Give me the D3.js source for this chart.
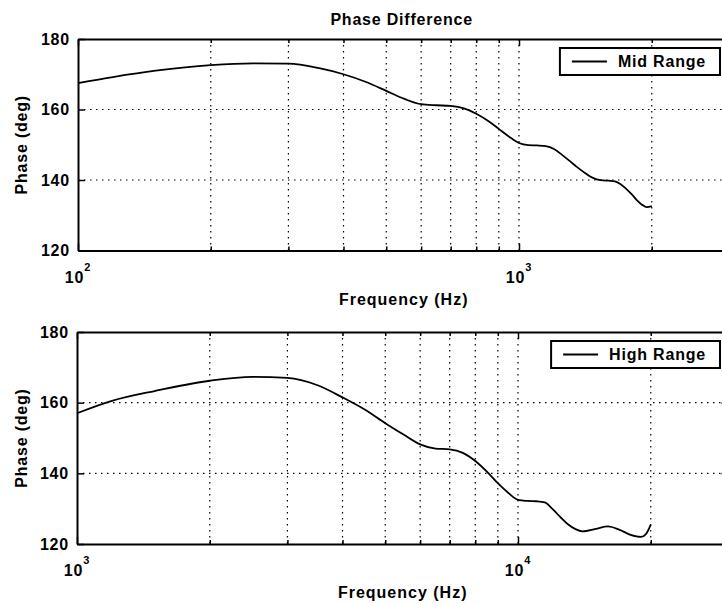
<!DOCTYPE html>
<html>
<head>
<meta charset="utf-8">
<script src="https://cdn.jsdelivr.net/npm/d3@7"></script>
<style>
  body { margin: 0; background: #fff; }
  svg { display: block; font-family: "Liberation Sans", Arial, sans-serif; }
</style>
</head>
<body>
<div id="chart-area"></div>
<script>
// mid range measurement (Hz, deg)
const midFreq = [100, 120, 150, 200, 250, 300, 350, 400, 450, 500, 550, 600, 650, 700, 750, 800, 850, 900, 950, 1000,
  1050, 1100, 1150, 1200, 1250, 1300, 1350, 1400, 1450, 1500, 1550, 1600, 1650, 1700, 1750, 1800, 1850, 1900, 1950, 2000];
const midPhase = [167.5, 169.2, 171.0, 172.6, 173.1, 173.0, 171.8, 170.0, 167.8, 165.3, 163.0, 161.5, 161.2, 161.0, 160.3, 158.8, 156.8, 154.5, 152.3, 150.5,
  149.9, 149.8, 149.6, 148.8, 147.2, 145.5, 143.8, 142.3, 141.0, 140.2, 139.9, 139.8, 139.6, 138.8, 137.5, 136.0, 134.3, 133.0, 132.3, 132.6];

// high range measurement (Hz, deg)
const highFreq = [1000, 1200, 1500, 2000, 2500, 3000, 3500, 4000, 4500, 5000, 5500, 6000, 6500, 7000, 7500, 8000, 8500, 9000, 9500, 10000,
  10500, 11000, 11500, 12000, 12500, 13000, 13500, 14000, 15000, 16000, 17000, 18000, 19000, 19500, 20000];
const highPhase = [157.0, 160.5, 163.3, 166.2, 167.3, 167.0, 165.0, 161.5, 158.0, 154.2, 151.0, 148.2, 147.0, 146.8, 145.8, 143.5, 140.5, 137.2, 134.5, 132.5,
  132.2, 132.1, 131.8, 129.8, 127.5, 125.5, 124.2, 123.6, 124.3, 125.0, 124.0, 122.6, 122.0, 122.8, 125.5];

const phaseTicks = [120, 140, 160, 180];
const phaseDomain = [120, 180];
const midDomain = [100, 3000];
const highDomain = [1000, 30000];

const canvasWidth = 722;
const canvasHeight = 604;
const decadePx = 441;

const canvas = d3.select("#chart-area").append("svg")
  .attr("width", canvasWidth)
  .attr("height", canvasHeight);

function isDecade(v) {
  const l = Math.log10(v);
  return Math.abs(l - Math.round(l)) < 1e-9;
}

function styleAxis(g) {
  g.attr("font-family", null).attr("font-size", null);
  g.select(".domain").attr("stroke", "#000").attr("stroke-width", 2);
  g.selectAll(".tick line").attr("stroke", "#000").attr("stroke-width", 1.5);
  g.selectAll(".tick text")
    .attr("fill", "#000")
    .attr("font-size", "16px")
    .attr("font-weight", "bold")
    .attr("letter-spacing", "0.8px");
}

function drawPanel(p) {
  const right = p.left + decadePx * Math.log10(p.domain[1] / p.domain[0]);
  const x = d3.scaleLog().domain(p.domain).range([p.left, right]);
  const y = d3.scaleLinear().domain(phaseDomain).range([p.bottom, p.top]);

  const allTicks = x.ticks();
  const majors = allTicks.filter(isDecade);
  const minors = allTicks.filter(t => !isDecade(t));

  const g = canvas.append("g");

  // dotted grid
  const grid = g.append("g")
    .attr("stroke", "#000")
    .attr("stroke-width", 1.2)
    .attr("stroke-dasharray", "1.5,4.5");
  grid.selectAll("line.gx")
    .data(allTicks.filter(t => t > p.domain[0]))
    .enter().append("line")
    .attr("x1", d => x(d)).attr("x2", d => x(d))
    .attr("y1", p.top).attr("y2", p.bottom);
  grid.selectAll("line.gy")
    .data(phaseTicks.filter(t => t > phaseDomain[0] && t < phaseDomain[1]))
    .enter().append("line")
    .attr("x1", p.left).attr("x2", right)
    .attr("y1", d => y(d)).attr("y2", d => y(d));

  // frame with inward ticks
  g.append("g").attr("transform", `translate(0, ${p.bottom})`)
    .call(d3.axisBottom(x).tickValues(majors).tickSizeInner(-7).tickSizeOuter(0).tickFormat(""))
    .call(styleAxis);
  g.append("g").attr("transform", `translate(0, ${p.bottom})`)
    .call(d3.axisBottom(x).tickValues(minors).tickSizeInner(-4).tickSizeOuter(0).tickFormat(""))
    .call(styleAxis)
    .call(a => a.select(".domain").remove());
  g.append("g").attr("transform", `translate(0, ${p.top})`)
    .call(d3.axisTop(x).tickValues(majors).tickSizeInner(-7).tickSizeOuter(0).tickFormat(""))
    .call(styleAxis);
  g.append("g").attr("transform", `translate(0, ${p.top})`)
    .call(d3.axisTop(x).tickValues(minors).tickSizeInner(-4).tickSizeOuter(0).tickFormat(""))
    .call(styleAxis)
    .call(a => a.select(".domain").remove());
  g.append("g").attr("transform", `translate(${p.left}, 0)`)
    .call(d3.axisLeft(y).tickValues(phaseTicks).tickSizeInner(-7).tickSizeOuter(0).tickPadding(8))
    .call(styleAxis);
  g.append("g").attr("transform", `translate(${right}, 0)`)
    .call(d3.axisRight(y).tickValues(phaseTicks).tickSizeInner(-7).tickSizeOuter(0).tickFormat(""))
    .call(styleAxis);

  // decade labels 10^n
  const decLabels = g.selectAll("text.dec")
    .data(majors)
    .enter().append("text")
    .attr("class", "dec")
    .attr("x", d => x(d))
    .attr("y", p.bottom + 32)
    .attr("text-anchor", "middle")
    .attr("font-size", "16px")
    .attr("font-weight", "bold")
    .attr("letter-spacing", "0.8px");
  decLabels.append("tspan").text("10");
  decLabels.append("tspan")
    .attr("dy", -12)
    .attr("font-size", "11px")
    .text(d => Math.round(Math.log10(d)));

  // axis titles
  g.append("text")
    .attr("x", (p.left + right) / 2)
    .attr("y", p.bottom + 54)
    .attr("text-anchor", "middle")
    .attr("font-size", "16px")
    .attr("font-weight", "bold")
    .attr("letter-spacing", "1px")
    .text("Frequency (Hz)");
  g.append("text")
    .attr("transform", `translate(27, ${(p.top + p.bottom) / 2}) rotate(-90)`)
    .attr("text-anchor", "middle")
    .attr("font-size", "16px")
    .attr("font-weight", "bold")
    .attr("letter-spacing", "0.8px")
    .text("Phase (deg)");

  if (p.title) {
    g.append("text")
      .attr("x", (p.left + right) / 2 - 2)
      .attr("y", p.top - 14)
      .attr("text-anchor", "middle")
      .attr("font-size", "16px")
      .attr("font-weight", "bold")
      .attr("letter-spacing", "0.8px")
      .text(p.title);
  }

  // curve
  const line = d3.line()
    .x(d => x(d[0]))
    .y(d => y(d[1]))
    .curve(d3.curveMonotoneX);
  g.append("path")
    .datum(d3.zip(p.freq, p.phase))
    .attr("fill", "none")
    .attr("stroke", "#000")
    .attr("stroke-width", 1.8)
    .attr("d", line);

  // legend box in the upper right corner
  const legend = g.append("g");
  const boxRect = legend.append("rect");
  const boxTop = p.top + 9;
  const boxH = 27;
  const legText = legend.append("text")
    .attr("font-size", "16px")
    .attr("font-weight", "bold")
    .attr("letter-spacing", "0.8px")
    .attr("y", boxTop + 19)
    .text(p.label);
  const textLen = legText.node().getComputedTextLength();
  const boxW = 58 + textLen + 14;
  const boxLeft = Math.min(right, canvasWidth) - 2 - boxW;
  boxRect
    .attr("x", boxLeft).attr("y", boxTop)
    .attr("width", boxW).attr("height", boxH)
    .attr("fill", "#fff").attr("stroke", "#000").attr("stroke-width", 2);
  legText.attr("x", boxLeft + 58);
  legend.append("line")
    .attr("x1", boxLeft + 12).attr("x2", boxLeft + 47)
    .attr("y1", boxTop + boxH / 2).attr("y2", boxTop + boxH / 2)
    .attr("stroke", "#000").attr("stroke-width", 1.8);
}

drawPanel({ top: 39, bottom: 250.5, left: 78, domain: midDomain, freq: midFreq, phase: midPhase, label: "Mid Range", title: "Phase Difference" });
drawPanel({ top: 332, bottom: 544, left: 77, domain: highDomain, freq: highFreq, phase: highPhase, label: "High Range" });
</script>
</body>
</html>
